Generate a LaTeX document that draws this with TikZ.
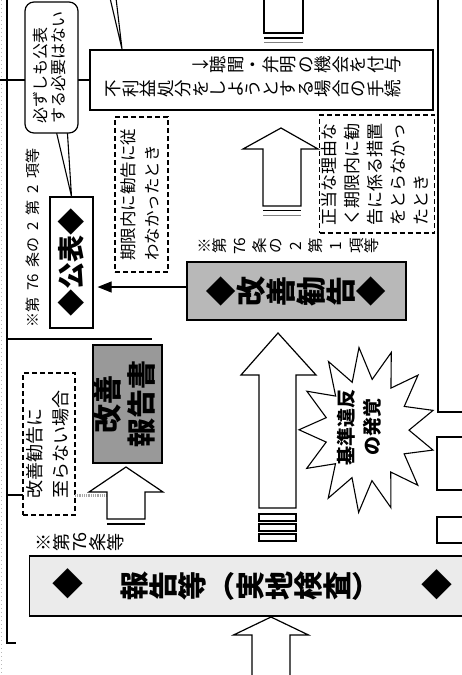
\documentclass[tikz,border=0pt]{standalone}
\usepackage{fontspec}
\setmainfont{Noto Sans CJK JP}
\usepackage{graphicx}
\usetikzlibrary{arrows.meta}

% one glyph turned a quarter turn to the left, in a 1em cell
\newcommand\rchar[1]{\raisebox{0.38em}{\rotatebox[origin=c]{90}{\raisebox{-0.38em}[0.5em][0.5em]{\makebox[1em]{#1}}}}}
\def\Rend{\Rend}
\newcommand\R[1]{\Rloop#1\Rend}
\def\Rloop#1{\ifx\Rend#1\else\rchar{#1}\expandafter\Rloop\fi}

\tikzset{
  ln/.style={line width=1.1pt},
  box/.style={draw, line width=1.2pt, fill=white, inner sep=0pt},
  dbox/.style={draw, line width=1.2pt, dash pattern=on 5pt off 3pt, fill=white, inner sep=0pt},
  darkbox/.style={box, fill=black!40},
  midbox/.style={box, fill=black!28},
  bandbox/.style={box, fill=black!8},
  barrow/.style={draw, line width=1.2pt, fill=white, line join=miter},
  txt/.style={inner sep=0pt},
}

\begin{document}
\begin{tikzpicture}[x=1pt,y=-1pt]
\useasboundingbox (0,0) rectangle (462,675);
\fill[white] (0,0) rectangle (462,675);

% scan edge
\draw[gray!55, line width=0.7pt, dash pattern=on 1pt off 3pt] (1.5,0) -- (1.5,675);

% frame lines
\coordinate (f0) at (7,-2);
\coordinate (f1) at (7,643);
\coordinate (f2) at (16,643);
\draw[ln] (f0) -- (f1) -- (f2);
\coordinate (g0) at (7,339);
\coordinate (g1) at (152,339);
\draw[ln] (g0) -- (g1);

% boxes cut by the right edge
\draw[ln] (470,412) -- (438,412) -- (438,-2);
\draw[ln] (470,437) -- (437,437) -- (437,490) -- (470,490);
\draw[ln] (470,517) -- (437,517) -- (437,543) -- (470,543);

% top block arrow (shaft end)
\draw[ln] (264,-2) -- (264,33) -- (303,33) -- (303,-2);
\draw[line width=2.4pt] (264,38) -- (303,38);
\draw[line width=0.9pt, gray] (264,42.5) -- (303,42.5);

% box: disadvantageous disposition
\node[box, minimum width=343, minimum height=60] (fu) at (261.5,80) {};
\node[txt, anchor=east, align=right, font=\fontsize{17.5}{24}\selectfont] (fut) at (402,77)
  {\R{↓聴聞・弁明の機会を付与}\\\R{不利益処分をしようとする場合の手続}};
\coordinate (e0) at (0,80);
\draw[ln] (e0) -- (fu.west);

% callout tail from above
\coordinate (t1) at (110,-2);
\coordinate (t2) at (122,49);
\coordinate (t3) at (116,-2);
\draw[ln] (t1) -- (t2) -- (t3);

% publication box
\node[box, minimum width=43, minimum height=131] (kh) at (71.5,262.5)
  {\rotatebox{90}{\fontsize{27}{27}\selectfont\bfseries ◆公表◆}};

% callout "not necessarily published"
\coordinate (cb1) at (55,126);
\coordinate (cb2) at (67,126);
\filldraw[ln, fill=white] (cb1) -- (kh.north) -- (cb2) -- cycle;
\node[box, rounded corners=9pt, minimum width=53, minimum height=131] (cb) at (51.5,67.5)
  {\rotatebox{90}{\fontsize{16}{17}\selectfont\begin{tabular}{@{}l@{}}必ずしも公表\\する必要はない\end{tabular}}};

% article label
\node[txt] (l762) at (33,238)
  {\rotatebox{90}{\fontsize{15}{15}\selectfont ※第\hspace{.45em}76\hspace{.45em}条の\hspace{.45em}2\hspace{.45em}第\hspace{.45em}2\hspace{.45em}項等}};

% dashed: did not follow advice
\node[dbox, minimum width=53, minimum height=155] (kg) at (141.5,194.5)
  {\rotatebox{90}{\fontsize{16.5}{24}\selectfont\begin{tabular}{@{}l@{}}期限内に勧告に従\\わなかったとき\end{tabular}}};

% dashed: without justifiable reason
\node[dbox, minimum width=112, minimum height=118] (sg) at (377,174)
  {\rotatebox{90}{\fontsize{17}{23}\selectfont\begin{tabular}{@{}l@{}}正当な理由な\\く期限内に勧\\告に係る措置\\をとらなかっ\\たとき\end{tabular}}};

% block arrow to disposition box
\draw[barrow] (281,128) -- (318,149) -- (301,149) -- (301,206) -- (263,206) -- (263,149) -- (243,149) -- cycle;
\draw[ln] (263,210.5) -- (301,210.5);
\draw[line width=0.8pt, gray] (263,215.5) -- (301,215.5);

% improvement advice
\node[txt] (l761) at (288,246)
  {\fontsize{15.5}{15.5}\selectfont\R{※第}\hspace{.3em}\R{{76}}\hspace{.3em}\R{条の}\hspace{.3em}\R{2}\hspace{.3em}\R{第}\hspace{.3em}\R{1}\hspace{.3em}\R{項等}};
\node[midbox, minimum width=219, minimum height=58] (kk) at (296.5,291)
  {\fontsize{30}{30}\selectfont\bfseries\R{◆改善勧告◆}};

\coordinate (a1) at ([yshift=4pt]kk.west);
\draw[ln, -{Triangle[length=14pt,width=11pt]}, shorten >=4pt] (a1) -- (a1 -| kh.east);

% improvement report
\node[darkbox, minimum width=69, minimum height=118] (kr) at (127.5,404)
  {\rotatebox{90}{\fontsize{29}{31}\selectfont\bfseries\begin{tabular}{@{}c@{}}改善\\報告書\end{tabular}}};

% dashed: not reaching advice
\node[dbox, minimum width=52, minimum height=142] (ks) at (49,444)
  {\rotatebox{90}{\fontsize{18}{26}\selectfont\begin{tabular}{@{}l@{}}改善勧告に\\至らない場合\end{tabular}}};
\coordinate (k0) at (7,495);
\coordinate (k1) at (23,495);
\draw[ln] (k0) -- (k1);
\coordinate (k2) at (75,495);
\coordinate (k3) at (107,495);
\draw[gray!70, line width=3pt, dash pattern=on 1pt off 0.8pt] (k2) -- (k3);

% small block arrow to report
\draw[barrow] (126,467) -- (163,492) -- (145,492) -- (145,519) -- (107,519) -- (107,492) -- (89,492) -- cycle;
\draw[line width=1.6pt] (107,524) -- (145,524);

% big block arrow to advice
\draw[barrow] (278,333) -- (316,375) -- (296,375) -- (296,508) -- (259,508) -- (259,375) -- (241,375) -- cycle;
\draw[ln] (259,514) rectangle (296,521);
\draw[ln] (259,524) rectangle (296,531);
\draw[ln] (259,534) rectangle (296,541);

% star: discovery of violation
\draw[ln, fill=white, line join=miter] plot[samples at={0,...,25}, variable=\k]
  ({367+(mod(\k,2)==0 ? 68 : 42)*cos(14+\k*360/26)}, {430+(mod(\k,2)==0 ? 83 : 51)*sin(14+\k*360/26)}) -- cycle;
\node[txt, font=\fontsize{19}{26}\selectfont\bfseries] (st) at (361,427)
  {\rotatebox{90}{\begin{tabular}{@{}c@{}}基準違反\\の発覚\end{tabular}}};

% report / inspection band
\node[txt] (l76) at (80,542) {\fontsize{18}{18}\selectfont\R{※第{76}条等}};
\node[bandbox, minimum width=441, minimum height=60, anchor=west] (bd) at (29,586) {};
\node[txt, font=\fontsize{31}{31}\selectfont] (bd1) at (68,584) {◆};
\node[txt, font=\fontsize{31}{31}\selectfont] (bd2) at (437,585) {◆};
\node[txt, font=\fontsize{29}{29}\selectfont\bfseries] (bdt) at (250,586) {\R{報告等}（\R{実地検査}）};

% bottom block arrow
\draw[barrow] (271,617) -- (308.5,635) -- (290,635) -- (290,680) -- (252,680) -- (252,635) -- (233.5,635) -- cycle;

\end{tikzpicture}
\end{document}
